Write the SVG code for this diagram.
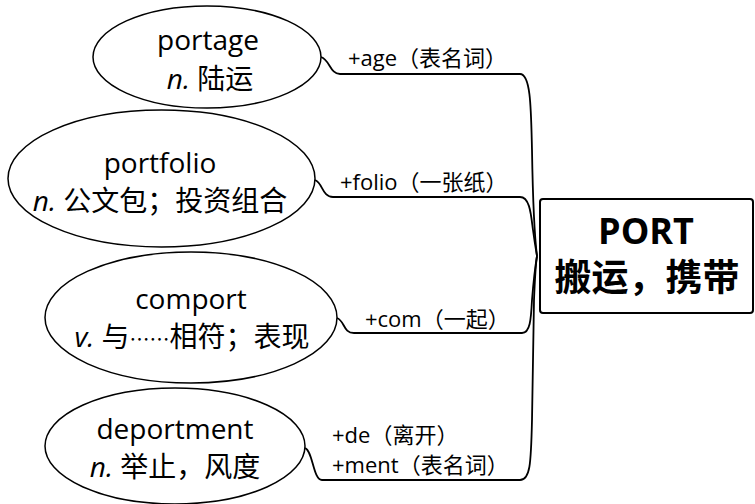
<svg xmlns="http://www.w3.org/2000/svg" width="755" height="504" viewBox="0 0 755 504">
<style>
.node ellipse{fill:#fff;stroke:#000;stroke-width:1.5}
.t{font-family:"Open Sans","Noto Sans CJK SC",sans-serif;font-size:28px;fill:#000;text-anchor:middle}
.i{font-style:italic}
.cj{font-family:"Noto Sans CJK SC",sans-serif;font-size:20px}
.lbl{font-family:"Open Sans","Noto Sans CJK SC",sans-serif;font-size:22px;fill:#000}
.conn path{fill:none;stroke:#000;stroke-width:1.8}
.box{fill:#fff;stroke:#000;stroke-width:2}
.ct{font-family:"Open Sans","Noto Sans CJK SC",sans-serif;font-weight:bold;fill:#000;text-anchor:middle}
</style>
<rect width="755" height="504" fill="#fff"/>
<g id="connectors" class="conn">
<path d="M321,57 C330,60 330,74 340,74 H520 C531,74 531,110 532,150 C533,210 535,240 537,256"/>
<path d="M315,180 C323,183 322,197 333,197 H520 C530,197 531,215 533,230 C535,245 536,250 537,256"/>
<path d="M337,318 C345,321 343,333 354,333 H522 C530,333 531,320 532,300 C534,275 536,262 537,256"/>
<path d="M305,448 C313,451 313,480 322,480 H520 C530,480 531,465 532,420 L534,300 C535,275 536,262 537,256"/>
</g>
<g id="labels">
<text class="lbl" x="348" y="66">+age（表名词）</text>
<text class="lbl" x="340" y="190">+folio（一张纸）</text>
<text class="lbl" x="365" y="327">+com（一起）</text>
<text class="lbl" x="332" y="443">+de（离开）</text>
<text class="lbl" x="332" y="473">+ment（表名词）</text>
</g>
<g id="node-portage" class="node">
<ellipse cx="207" cy="57" rx="114" ry="51"/>
<text class="t" x="208" y="50">portage</text>
<text class="t" x="210" y="89"><tspan class="i">n.</tspan> 陆运</text>
</g>
<g id="node-portfolio" class="node">
<ellipse cx="161.5" cy="178.5" rx="153.5" ry="68.5"/>
<text class="t" x="160" y="173">portfolio</text>
<text class="t" x="160" y="211"><tspan class="i">n.</tspan> 公文包；投资组合</text>
</g>
<g id="node-comport" class="node">
<ellipse cx="191" cy="317.5" rx="146" ry="65.5"/>
<text class="t" x="191" y="309">comport</text>
<text class="t" x="192" y="347"><tspan class="i">v.</tspan> 与<tspan class="cj">……</tspan>相符；表现</text>
</g>
<g id="node-deportment" class="node">
<ellipse cx="175" cy="446" rx="130" ry="58"/>
<text class="t" x="175" y="439">deportment</text>
<text class="t" x="175" y="477"><tspan class="i">n.</tspan> 举止，风度</text>
</g>
<g id="node-port">
<rect class="box" x="540" y="199" width="213" height="114" rx="3"/>
<text class="ct" x="646" y="244" font-size="36">PORT</text>
<text class="ct" x="647" y="291" font-size="37">搬运，携带</text>
</g>
</svg>
